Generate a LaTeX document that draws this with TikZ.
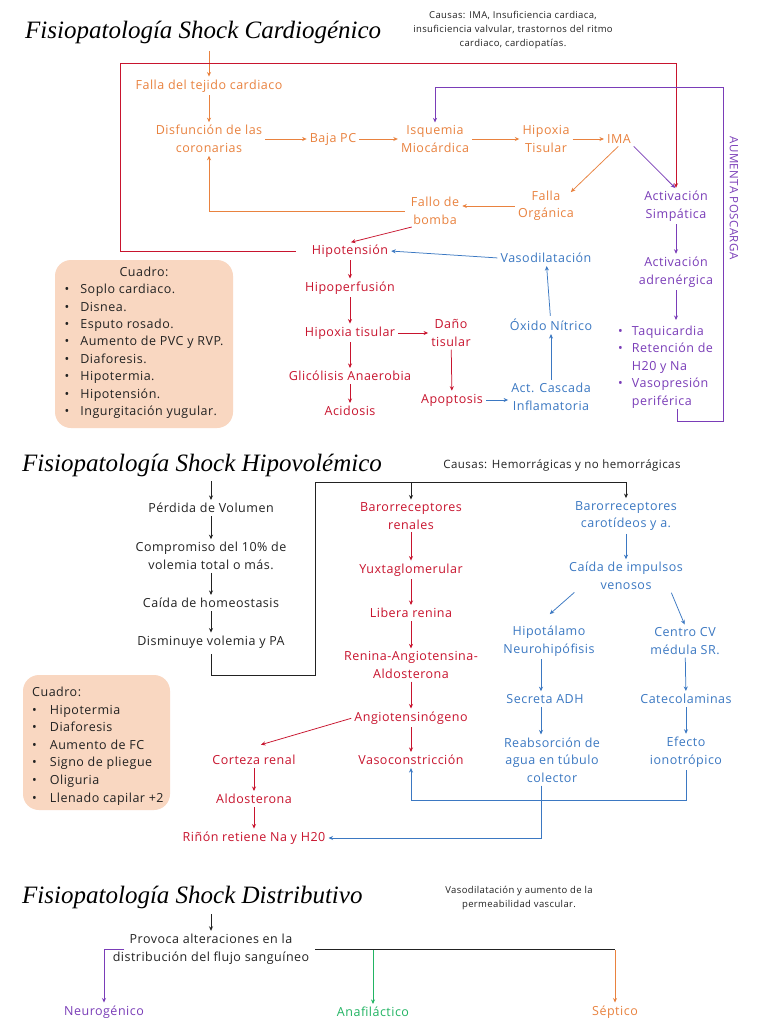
\documentclass[tikz,border=0pt]{standalone}
\usepackage{fontspec}
\setmainfont{Open Sans}[LetterSpace=4]
\newfontfamily\titlefont{Liberation Serif}
\usetikzlibrary{arrows.meta}
\definecolor{cora}{HTML}{E9823F}
\definecolor{cred}{HTML}{C8142E}
\definecolor{cblu}{HTML}{3B78C2}
\definecolor{cpur}{HTML}{7A3DB8}
\definecolor{cgrn}{HTML}{22B463}
\definecolor{cpeach}{HTML}{F9D7C1}
\definecolor{cblk}{HTML}{222222}
\newcommand\bodyfs{\fontsize{12.5}{17.5}\selectfont}
\newcommand\smallfs{\fontsize{9.5}{14}\selectfont}
\newcommand\titlefs{\titlefont\itshape\fontsize{25}{28}\selectfont}
\begin{document}
\begin{tikzpicture}[x=1pt,y=-1pt,
  tx/.style={align=center, inner sep=2pt, font=\bodyfs},
  sora/.style={tx, text=cora},
  sred/.style={tx, text=cred},
  sblu/.style={tx, text=cblu},
  spur/.style={tx, text=cpur},
  sblk/.style={tx, text=cblk},
  sgrn/.style={tx, text=cgrn},
  ttl/.style={anchor=west, inner sep=0pt, font=\titlefs, text=black},
  smalltx/.style={align=center, inner sep=1pt, font=\smallfs, text=cblk},
  arr/.style={-{Stealth[length=4.5pt,width=4pt]}, line width=0.75pt, shorten >=1pt, shorten <=1pt},
  ln/.style={line width=0.75pt},
  cbox/.style={fill=cpeach, rounded corners=16pt, inner sep=0pt}
]
\path[use as bounding box, fill=white] (0,0) rectangle (768,1024);

% ================= Section 1: Cardiogenico =================
\node[ttl] (t1) at (25,32) {Fisiopatología Shock Cardiogénico};
\node[smalltx] (c1) at (513,30) {Causas: IMA, Insuficiencia cardiaca,\\insuficiencia valvular, trastornos del ritmo\\cardiaco, cardiopatías.};

\coordinate (s1) at (209,50);
\node[sora] (falla) at (209,86) {Falla del tejido cardiaco};
\node[sora] (disf) at (209,139) {Disfunción de las\\coronarias};
\node[sora] (baja) at (333,139) {Baja PC};
\node[sora] (isq) at (435,139) {Isquemia\\Miocárdica};
\node[sora] (hipx) at (546,139) {Hipoxia\\Tisular};
\node[sora] (ima) at (619,139) {IMA};
\node[sora] (forg) at (546,206) {Falla\\Orgánica};
\node[sora] (bomba) at (435,211) {Fallo de\\bomba};

\node[spur] (asimp) at (676,206) {Activación\\Simpática};
\node[spur] (aadr) at (676,272) {Activación\\adrenérgica};
\node[spur, anchor=north west, align=left] (list) at (616,321) {\begin{tabular}{@{}l@{\hspace{9pt}}l@{}}•&Taquicardia\\•&Retención de\\&H20 y Na\\•&Vasopresión\\&periférica\end{tabular}};
\node[text=cpur, rotate=-90, font=\fontsize{11.5}{14}\selectfont, inner sep=1pt] (aum) at (734,198) {AUMENTA POSCARGA};

\node[sred] (hipot) at (350,251) {Hipotensión};
\node[sred] (hipop) at (350,288) {Hipoperfusión};
\node[sred] (hipxt) at (350,333) {Hipoxia tisular};
\node[sred] (glic) at (350,376) {Glicólisis Anaerobia};
\node[sred] (acid) at (350,411) {Acidosis};
\node[sred] (dano) at (451,333) {Daño\\tisular};
\node[sred] (apop) at (452,400) {Apoptosis};

\node[sblu] (vaso) at (546,258) {Vasodilatación};
\node[sblu] (oxido) at (551,325) {Óxido Nítrico};
\node[sblu] (casc) at (551,397) {Act. Cascada\\Inflamatoria};

% connectors section 1
\draw[arr, cora] (s1) -- (falla);
\draw[arr, cora] (falla) -- (disf);
\draw[arr, cora] (disf) -- (baja);
\draw[arr, cora] (baja) -- (isq);
\draw[arr, cora] (isq) -- (hipx);
\draw[arr, cora] (hipx) -- (ima);
\draw[arr, cora] (ima.south) -- ([xshift=-6pt,yshift=-4pt]forg.north east);
\draw[arr, cpur] (ima.south east) -- (asimp.north);
\draw[arr, cora] (forg.west) -- (forg.west -| bomba.east);
\draw[arr, cora, shorten <=4pt] (bomba.west) -| (disf.south);
\draw[arr, cred] ([xshift=4pt]bomba.south west) -- (hipot.north);
\coordinate (r1) at (120,63);
\draw[arr, cred, shorten <=14pt] (hipot.west) -| (r1) -| (asimp.north);
\coordinate (pst) at (677,408);
\coordinate (p1) at (723,421);
\coordinate (p2) at (723,87);
\draw[arr, cpur] (pst) |- (p1) -- (p2) -| (isq.north);
\draw[arr, cpur] (asimp) -- (aadr);
\draw[arr, cpur] (aadr.south) -- (aadr.south |- list.north);

\draw[arr, cred] (hipot) -- (hipop);
\draw[arr, cred] (hipop) -- (hipxt);
\draw[arr, cred] (hipxt) -- (glic);
\draw[arr, cred] (glic) -- (acid);
\draw[arr, cred] (hipxt) -- (dano);
\draw[arr, cred] (dano) -- (apop);
\draw[arr, cblu] (apop.east) -- (apop.east -| casc.west);
\draw[arr, cblu] (casc) -- (oxido);
\draw[arr, cblu] (oxido) -- (vaso);
\draw[arr, cblu] (vaso.west) -- (hipot.east);

% Cuadro 1
\node[cbox, minimum width=178pt, minimum height=168pt] (box1) at (144,344) {};
\node[sblk, anchor=north, font=\fontsize{12.5}{17.4}\selectfont] (cl1) at (144,262) {\begin{tabular}{@{}l@{\hspace{11pt}}l@{}}\multicolumn{2}{c}{Cuadro:}\\•&Soplo cardiaco.\\•&Disnea.\\•&Esputo rosado.\\•&Aumento de PVC y RVP.\\•&Diaforesis.\\•&Hipotermia.\\•&Hipotensión.\\•&Ingurgitación yugular.\end{tabular}};

% ================= Section 2: Hipovolemico =================
\node[ttl] (t2) at (22,465) {Fisiopatología Shock Hipovolémico};
\node[sblk, font=\fontsize{11.5}{14}\selectfont] (c2) at (562,465) {Causas: Hemorrágicas y no hemorrágicas};

\coordinate (s2) at (211,480);
\node[sblk] (perd) at (211,508) {Pérdida de Volumen};
\node[sblk] (comp) at (211,556) {Compromiso del 10\% de\\volemia total o más.};
\node[sblk] (caida) at (211,603) {Caída de homeostasis};
\node[sblk] (dism) at (211,642) {Disminuye volemia y PA};

\node[sred] (baro1) at (411,516) {Barorreceptores\\renales};
\node[sred] (yux) at (411,570) {Yuxtaglomerular};
\node[sred] (libera) at (411,613) {Libera renina};
\node[sred] (raa) at (411,665) {Renina-Angiotensina-\\Aldosterona};
\node[sred] (angio) at (411,718) {Angiotensinógeno};
\node[sred] (vasoc) at (411,760) {Vasoconstricción};
\node[sred] (corteza) at (254,760) {Corteza renal};
\node[sred] (aldo) at (254,799) {Aldosterona};
\node[sred] (rinon) at (254,838) {Riñón retiene Na y H20};

\node[sblu] (baro2) at (626,516) {Barorreceptores\\carotídeos y a.};
\node[sblu] (caidai) at (626,576) {Caída de impulsos\\venosos};
\node[sblu] (hipo) at (549,641) {Hipotálamo\\Neurohipófisis};
\node[sblu] (centro) at (685,641) {Centro CV\\médula SR.};
\node[sblu] (adh) at (545,699) {Secreta ADH};
\node[sblu] (reab) at (552,760) {Reabsorción de\\agua en túbulo\\colector};
\node[sblu] (cate) at (686,699) {Catecolaminas};
\node[sblu] (efecto) at (686,752) {Efecto\\ionotrópico};

\draw[arr, cblk] (s2) -- (perd);
\draw[arr, cblk] (perd) -- (comp);
\draw[arr, cblk] (comp) -- (caida);
\draw[arr, cblk] (caida) -- (dism);
\coordinate (b1) at (211,675);
\coordinate (b2) at (315,675);
\coordinate (b3) at (315,482);
\draw[arr, cblk, shorten <=4pt] (dism.south) -- (b1) -- (b2) -- (b3) -| (baro2.north);
\draw[arr, cblk] (baro1.north |- b3) -- (baro1.north);

\draw[arr, cred] (baro1) -- (yux);
\draw[arr, cred] (yux) -- (libera);
\draw[arr, cred] (libera) -- (raa);
\draw[arr, cred] (raa) -- (angio);
\draw[arr, cred] (angio) -- (vasoc);
\draw[arr, cred] (angio.west) -- ([xshift=6pt,yshift=8pt]corteza.north);
\draw[arr, cred] (corteza) -- (aldo);
\draw[arr, cred] (aldo) -- (rinon);

\coordinate (colL) at (541,0);
\draw[arr, cblu] (baro2) -- (caidai);
\draw[arr, cblu] ([xshift=8pt]caidai.south west) -- ([yshift=9pt]hipo.north);
\draw[arr, cblu] ([xshift=-14pt]caidai.south east) -- (centro.north);
\draw[arr, cblu] (hipo.south -| colL) -- (adh.north -| colL);
\draw[arr, cblu] (adh.south -| colL) -- (reab.north -| colL);
\draw[arr, cblu] (centro) -- (cate);
\draw[arr, cblu] (cate) -- (efecto);
\coordinate (e1) at (686,800);
\draw[arr, cblu] (efecto.south) -- (e1) -| (vasoc.south);
\coordinate (e2) at (541,838);
\draw[arr, cblu] (reab.south -| colL) -- (e2) -- (rinon.east);

% Cuadro 2
\node[cbox, minimum width=147pt, minimum height=135pt] (box2) at (96.5,742.5) {};
\node[sblk, anchor=north west, align=left, font=\fontsize{12.5}{17.6}\selectfont] (cl2) at (30,682) {\begin{tabular}{@{}l@{\hspace{13pt}}l@{}}\multicolumn{2}{@{}l}{Cuadro:}\\•&Hipotermia\\•&Diaforesis\\•&Aumento de FC\\•&Signo de pliegue\\•&Oliguria\\•&Llenado capilar +2\end{tabular}};

% ================= Section 3: Distributivo =================
\node[ttl] (t3) at (22,897) {Fisiopatología Shock Distributivo};
\node[smalltx] (c3) at (519,898) {Vasodilatación y aumento de la\\permeabilidad vascular.};

\coordinate (s3) at (211,913);
\node[sblk] (prov) at (211,949) {Provoca alteraciones en la\\distribución del flujo sanguíneo};
\node[spur] (neuro) at (104,1012) {Neurogénico};
\node[sgrn] (anaf) at (373,1012) {Anafiláctico};
\node[sora] (sept) at (615,1012) {Séptico};

\draw[arr, cblk] (s3) -- (s3 |- prov.north);
\coordinate (n1) at (125,949);
\draw[arr, cpur] (n1) -| (neuro.north);
\coordinate (k1) at (315,949);
\coordinate (k2) at (615,949);
\draw[ln, cblk] (k1) -- (k2);
\draw[arr, cora] (k2) -- (sept.north);
\draw[arr, cgrn] (anaf.north |- k1) -- (anaf.north);
\end{tikzpicture}
\end{document}
